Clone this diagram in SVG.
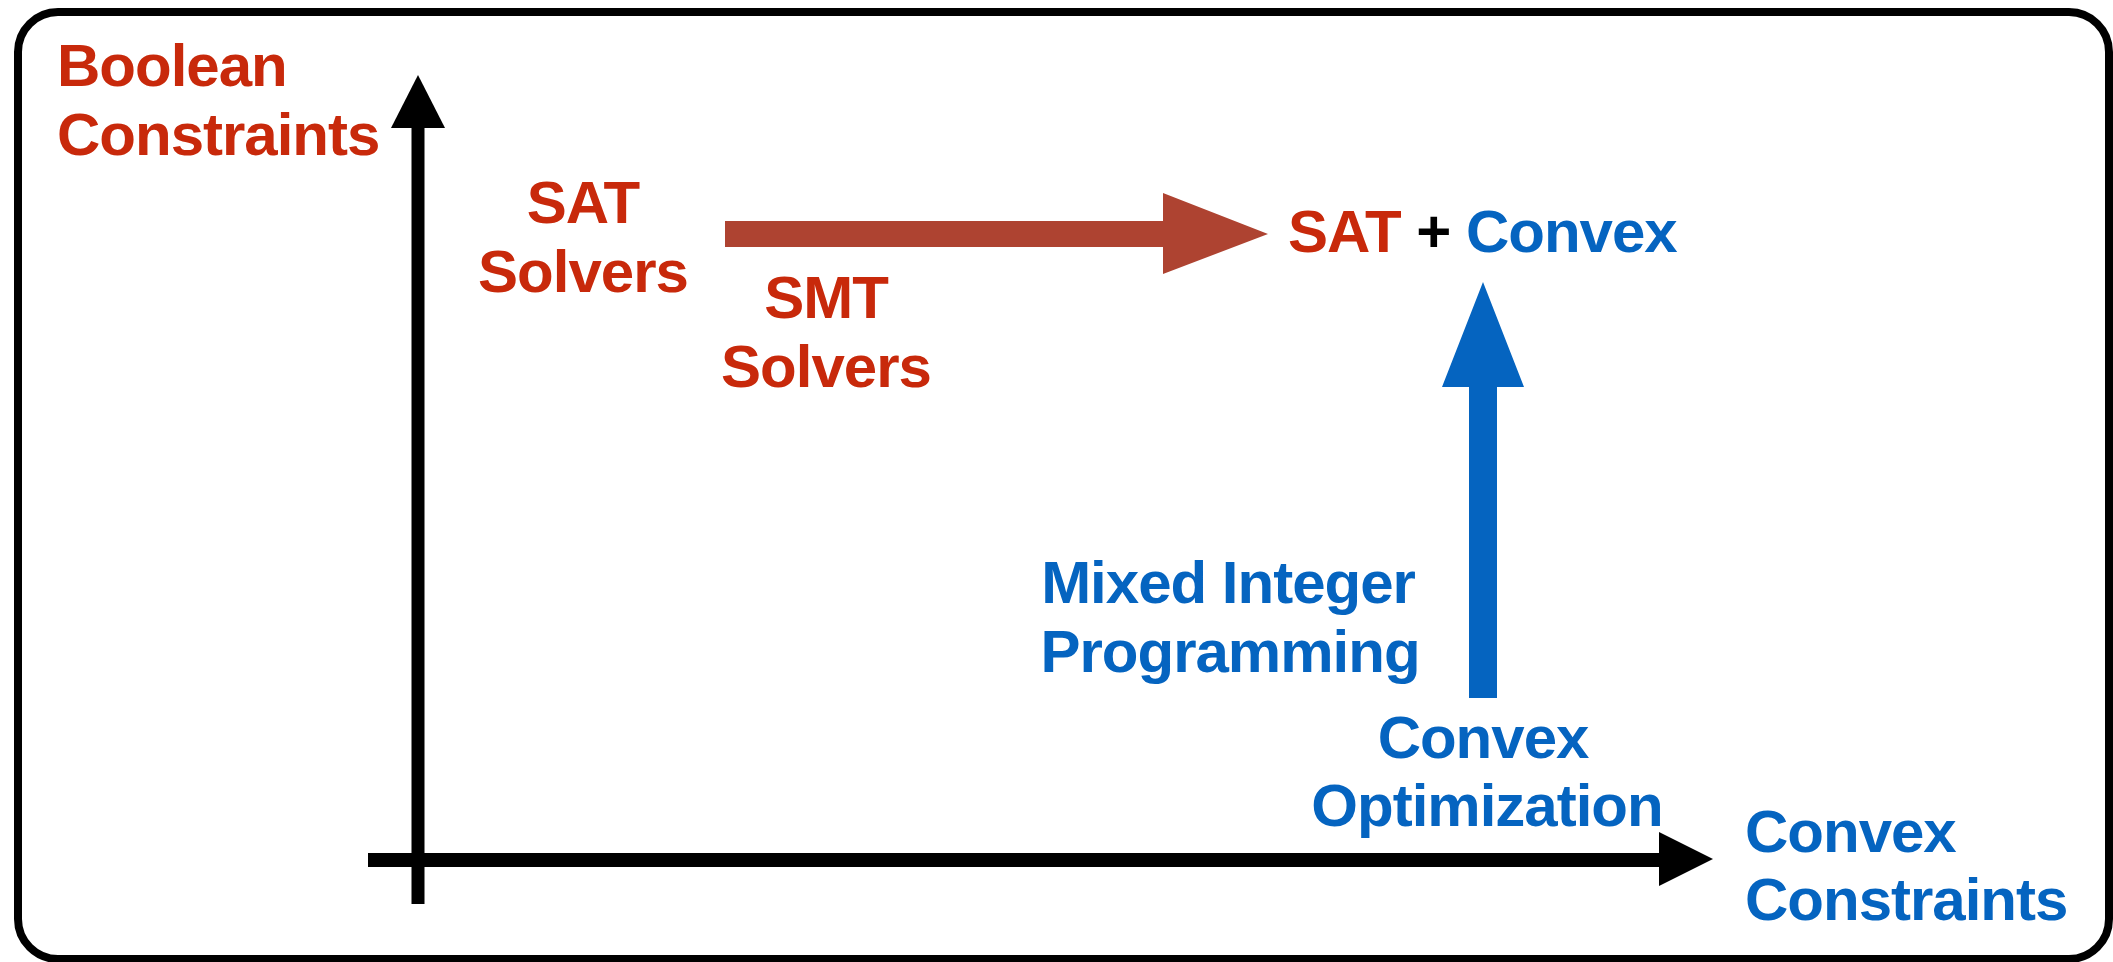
<svg xmlns="http://www.w3.org/2000/svg" width="2113" height="962" viewBox="0 0 2113 962">
  <style>
    .lbl { font-family: "Liberation Sans", Arial, Helvetica, sans-serif; font-weight: bold; font-size: 60px; letter-spacing: -1px; }
    .red { fill: #C8290B; }
    .blue { fill: #0564C0; }
    .blk { fill: #000000; }
    .mid { text-anchor: middle; }
    .axis { fill: #000000; }
  </style>

  <!-- white page with rounded frame -->
  <rect x="0" y="0" width="2113" height="962" fill="#ffffff"/>
  <rect id="frame" x="18" y="12" width="2091" height="947" rx="40" ry="40" fill="none" stroke="#000000" stroke-width="8"/>

  <!-- coordinate axes -->
  <g id="axes" class="axis">
    <rect x="411.5" y="126" width="13" height="778"/>
    <polygon points="418,75 391,128 445,128"/>
    <rect x="368" y="853" width="1293" height="14"/>
    <polygon points="1713,859 1659,832 1659,886"/>
  </g>

  <!-- connectors -->
  <g id="connectors">
    <polygon id="sat-to-combined" fill="#AE4331" points="725,221 1163,221 1163,193 1268,234 1163,274 1163,247 725,247"/>
    <polygon id="mip-to-combined" fill="#0564C0" points="1469,698 1469,387 1442,387 1483,282 1524,387 1497,387 1497,698"/>
  </g>

  <!-- axis labels -->
  <g id="boolean-constraints">
    <text class="lbl red" x="57" y="86">Boolean</text>
    <text class="lbl red" x="57" y="155">Constraints</text>
  </g>
  <g id="convex-constraints">
    <text class="lbl blue" x="1745" y="852">Convex</text>
    <text class="lbl blue" x="1745" y="920">Constraints</text>
  </g>

  <!-- solver families -->
  <g id="sat-solvers">
    <text class="lbl red mid" x="583" y="223">SAT</text>
    <text class="lbl red mid" x="583" y="292">Solvers</text>
  </g>
  <g id="smt-solvers">
    <text class="lbl red mid" x="826" y="318">SMT</text>
    <text class="lbl red mid" x="826" y="387">Solvers</text>
  </g>
  <g id="sat-convex">
    <text class="lbl" x="1288" y="252"><tspan class="red">SAT</tspan><tspan class="blk"> + </tspan><tspan class="blue">Convex</tspan></text>
  </g>
  <g id="mixed-integer-programming">
    <text class="lbl blue mid" x="1228" y="603">Mixed Integer</text>
    <text class="lbl blue mid" x="1230" y="672">Programming</text>
  </g>
  <g id="convex-optimization">
    <text class="lbl blue mid" x="1483" y="758">Convex</text>
    <text class="lbl blue mid" x="1487" y="826">Optimization</text>
  </g>
</svg>
